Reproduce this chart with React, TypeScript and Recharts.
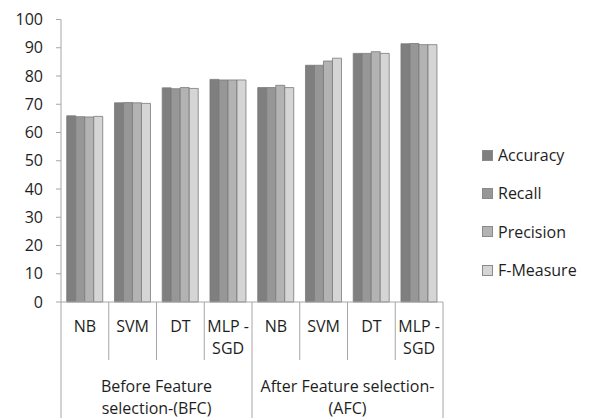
import React from 'react';
import { BarChart, Bar, XAxis, YAxis } from 'recharts';

const models = ['NB', 'SVM', 'DT', 'MLP - SGD', 'NB', 'SVM', 'DT', 'MLP - SGD'];
const modelLines = [['NB'], ['SVM'], ['DT'], ['MLP -', 'SGD'], ['NB'], ['SVM'], ['DT'], ['MLP -', 'SGD']];
const groupLines = [
  ['Before Feature', 'selection-(BFC)'],
  ['After Feature selection-', '(AFC)'],
];

const accuracy = [65.9, 70.5, 75.8, 78.8, 75.9, 83.8, 88.0, 91.4];
const recall = [65.6, 70.6, 75.5, 78.6, 75.9, 83.8, 88.0, 91.5];
const precision = [65.5, 70.5, 75.9, 78.6, 76.7, 85.3, 88.6, 91.1];
const fMeasure = [65.7, 70.3, 75.6, 78.6, 75.9, 86.3, 88.0, 91.1];

const yTicks = [0, 10, 20, 30, 40, 50, 60, 70, 80, 90, 100];

const series = [
  { key: 'Accuracy', fill: '#7f7f7f' },
  { key: 'Recall', fill: '#979797' },
  { key: 'Precision', fill: '#b3b3b3' },
  { key: 'F-Measure', fill: '#d5d5d5' },
];

const data = models.map((m, i) => ({
  id: `${i < 4 ? 'BFC' : 'AFC'}-${m}`,
  Accuracy: accuracy[i],
  Recall: recall[i],
  Precision: precision[i],
  'F-Measure': fMeasure[i],
}));

const WIDTH = 591;
const HEIGHT = 418;
const Y_AXIS_W = 61;
const RIGHT = 148;
const X_AXIS_H = 116;
const BAND = (WIDTH - Y_AXIS_W - RIGHT) / models.length;
const FONT = '"Open Sans", Lato, sans-serif';
const FONT_SIZE = 16;
const TEXT = '#1e1e1e';
const AXIS = '#a6a6a6';

// two-level category axis: model names, then the feature-selection group
const CategoryTick = (props: any) => {
  const { x, y, payload } = props;
  const i = payload.index;
  const half = BAND / 2;
  const groupEnd = (i + 1) % 4 === 0;
  return (
    <g>
      {modelLines[i].map((t, k) => (
        <text key={k} x={x} y={y + 30 + k * 21.6} textAnchor="middle" fill={TEXT} fontSize={FONT_SIZE}>
          {t}
        </text>
      ))}
      <line x1={x + half} x2={x + half} y1={y} y2={y + (groupEnd ? X_AXIS_H : 58)} stroke={AXIS} />
      {i === 0 && <line x1={x - half} x2={x - half} y1={y} y2={y + X_AXIS_H} stroke={AXIS} />}
      {i % 4 === 0 &&
        groupLines[i / 4].map((t, k) => (
          <text
            key={`g${k}`}
            x={x - half + 2 * BAND}
            y={y + 90 + k * 21.6}
            textAnchor="middle"
            fill={TEXT}
            fontSize={FONT_SIZE}
          >
            {t}
          </text>
        ))}
    </g>
  );
};

const LegendBox = () => (
  <div
    style={{
      position: 'absolute',
      left: 482,
      top: 136,
      fontFamily: FONT,
      fontSize: FONT_SIZE,
      color: TEXT,
    }}
  >
    {series.map((s) => (
      <div key={s.key} style={{ display: 'flex', alignItems: 'center', height: 38.3 }}>
        <span
          style={{
            display: 'inline-block',
            width: 9,
            height: 9,
            background: s.fill,
            border: '1px solid #8a8a8a',
            marginRight: 5,
          }}
        />
        <span>{s.key}</span>
      </div>
    ))}
  </div>
);

export default function App() {
  return (
    <div style={{ position: 'absolute', left: 0, top: 0, width: WIDTH, height: HEIGHT, fontFamily: FONT }}>
      <BarChart
        width={WIDTH}
        height={HEIGHT}
        data={data}
        margin={{ top: 19.5, right: RIGHT, left: 0, bottom: 0 }}
        barCategoryGap="12%"
        barGap={0}
      >
        <XAxis
          dataKey="id"
          height={X_AXIS_H}
          stroke={AXIS}
          tickLine={false}
          tickSize={0}
          tickMargin={0}
          interval={0}
          tick={<CategoryTick />}
        />
        <YAxis
          width={Y_AXIS_W}
          domain={[0, 100]}
          ticks={yTicks}
          interval={0}
          stroke={AXIS}
          tickSize={5}
          tickMargin={13}
          tick={{ fill: TEXT, fontSize: FONT_SIZE }}
        />
        {series.map((s) => (
          <Bar
            key={s.key}
            dataKey={s.key}
            fill={s.fill}
            stroke="#7a7a7a"
            strokeWidth={0.8}
            isAnimationActive={false}
          />
        ))}
      </BarChart>
      <LegendBox />
    </div>
  );
}
